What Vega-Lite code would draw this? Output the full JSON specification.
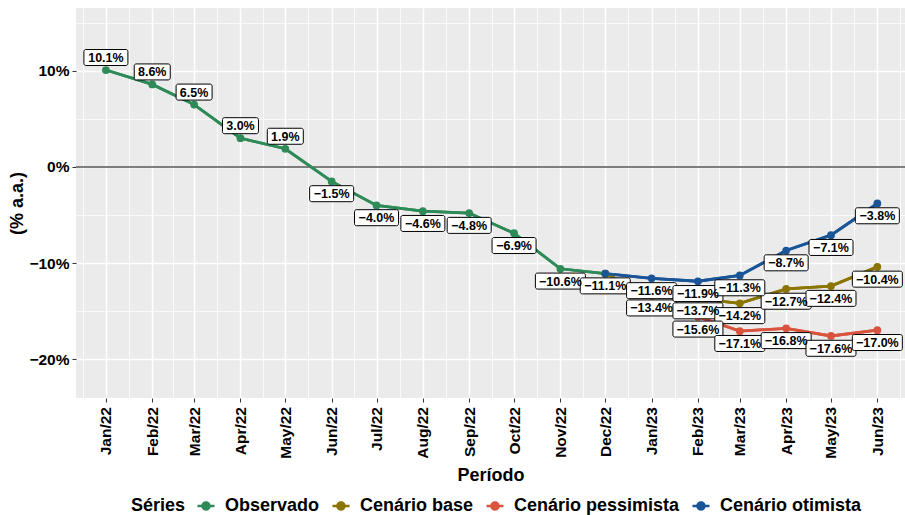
{
  "$schema": "https://vega.github.io/schema/vega-lite/v6.json",
  "width": 829,
  "height": 390,
  "autosize": {"type": "none"},
  "padding": {"left": 76, "top": 8, "right": 0, "bottom": 117},
  "background": "white",
  "config": {
    "view": {"fill": "#EBEBEB", "stroke": null},
    "font": "Liberation Sans",
    "axis": {"gridColor": "white", "domain": false, "labelFont": "Liberation Sans", "titleFont": "Liberation Sans"},
    "legend": {"labelFont": "Liberation Sans", "titleFont": "Liberation Sans"}
  },
  "data": {
    "values": [
      {"periodo": "2022-01-01", "serie": "Observado", "valor": 0.101},
      {"periodo": "2022-02-01", "serie": "Observado", "valor": 0.086},
      {"periodo": "2022-03-01", "serie": "Observado", "valor": 0.065},
      {"periodo": "2022-04-01", "serie": "Observado", "valor": 0.030},
      {"periodo": "2022-05-01", "serie": "Observado", "valor": 0.019},
      {"periodo": "2022-06-01", "serie": "Observado", "valor": -0.015},
      {"periodo": "2022-07-01", "serie": "Observado", "valor": -0.040},
      {"periodo": "2022-08-01", "serie": "Observado", "valor": -0.046},
      {"periodo": "2022-09-01", "serie": "Observado", "valor": -0.048},
      {"periodo": "2022-10-01", "serie": "Observado", "valor": -0.069},
      {"periodo": "2022-11-01", "serie": "Observado", "valor": -0.106},
      {"periodo": "2022-12-01", "serie": "Observado", "valor": -0.111},
      {"periodo": "2022-12-01", "serie": "Cenário base", "valor": -0.111},
      {"periodo": "2023-01-01", "serie": "Cenário base", "valor": -0.134},
      {"periodo": "2023-02-01", "serie": "Cenário base", "valor": -0.137},
      {"periodo": "2023-03-01", "serie": "Cenário base", "valor": -0.142},
      {"periodo": "2023-04-01", "serie": "Cenário base", "valor": -0.127},
      {"periodo": "2023-05-01", "serie": "Cenário base", "valor": -0.124},
      {"periodo": "2023-06-01", "serie": "Cenário base", "valor": -0.104},
      {"periodo": "2023-02-01", "serie": "Cenário pessimista", "valor": -0.156},
      {"periodo": "2023-03-01", "serie": "Cenário pessimista", "valor": -0.171},
      {"periodo": "2023-04-01", "serie": "Cenário pessimista", "valor": -0.168},
      {"periodo": "2023-05-01", "serie": "Cenário pessimista", "valor": -0.176},
      {"periodo": "2023-06-01", "serie": "Cenário pessimista", "valor": -0.170},
      {"periodo": "2022-12-01", "serie": "Cenário otimista", "valor": -0.111},
      {"periodo": "2023-01-01", "serie": "Cenário otimista", "valor": -0.116},
      {"periodo": "2023-02-01", "serie": "Cenário otimista", "valor": -0.119},
      {"periodo": "2023-03-01", "serie": "Cenário otimista", "valor": -0.113},
      {"periodo": "2023-04-01", "serie": "Cenário otimista", "valor": -0.087},
      {"periodo": "2023-05-01", "serie": "Cenário otimista", "valor": -0.071},
      {"periodo": "2023-06-01", "serie": "Cenário otimista", "valor": -0.038}
    ]
  },
  "resolve": {"axis": {"x": "independent", "y": "independent"}},
  "layer": [
    {
      "mark": {"type": "line", "strokeWidth": 2.8},
      "encoding": {
        "x": {
          "field": "periodo", "type": "temporal",
          "scale": {"type": "utc", "domain": [{"year": 2021, "month": 12, "date": 12, "utc": true}, {"year": 2023, "month": 6, "date": 19, "hours": 12, "utc": true}]},
          "axis": {
            "orient": "bottom", "grid": true, "gridWidth": 0.75, "gridColor": "white",
            "labels": false, "ticks": false, "domain": false, "title": null,
            "values": [
              {"year": 2021, "month": 12, "date": 16, "hours": 12, "utc": true},
              {"year": 2022, "month": 1, "date": 16, "hours": 12, "utc": true},
              {"year": 2022, "month": 2, "date": 15, "utc": true},
              {"year": 2022, "month": 3, "date": 16, "hours": 12, "utc": true},
              {"year": 2022, "month": 4, "date": 16, "utc": true},
              {"year": 2022, "month": 5, "date": 16, "hours": 12, "utc": true},
              {"year": 2022, "month": 6, "date": 16, "utc": true},
              {"year": 2022, "month": 7, "date": 16, "hours": 12, "utc": true},
              {"year": 2022, "month": 8, "date": 16, "hours": 12, "utc": true},
              {"year": 2022, "month": 9, "date": 16, "utc": true},
              {"year": 2022, "month": 10, "date": 16, "hours": 12, "utc": true},
              {"year": 2022, "month": 11, "date": 16, "utc": true},
              {"year": 2022, "month": 12, "date": 16, "hours": 12, "utc": true},
              {"year": 2023, "month": 1, "date": 16, "hours": 12, "utc": true},
              {"year": 2023, "month": 2, "date": 15, "utc": true},
              {"year": 2023, "month": 3, "date": 16, "hours": 12, "utc": true},
              {"year": 2023, "month": 4, "date": 16, "utc": true},
              {"year": 2023, "month": 5, "date": 16, "hours": 12, "utc": true},
              {"year": 2023, "month": 6, "date": 16, "utc": true}
            ]
          }
        },
        "y": {
          "field": "valor", "type": "quantitative",
          "scale": {"domain": [-0.2406, 0.1656], "nice": false, "zero": false},
          "axis": {"orient": "left", "values": [-0.15, -0.05, 0.05, 0.15], "grid": true, "gridWidth": 0.75, "gridColor": "white", "labels": false, "ticks": false, "domain": false, "title": null}
        },
        "color": {
          "field": "serie", "type": "nominal",
          "scale": {"domain": ["Observado", "Cenário base", "Cenário pessimista", "Cenário otimista"], "range": ["#2E8B57", "#8B7500", "#D9543C", "#1A5597"]},
          "legend": {
            "orient": "none", "legendX": 55, "legendY": 489, "direction": "horizontal", "padding": 0,
            "title": "Séries", "titleOrient": "left", "titleFontSize": 18, "titleFontWeight": "bold", "titleColor": "black", "titlePadding": 11, "titleBaseline": "middle",
            "labelFontSize": 18, "labelFontWeight": "bold", "labelColor": "black", "labelOffset": 10, "columnPadding": 12, "labelLimit": 400,
            "symbolType": "M-1,-0.16H1V0.16H-1Z M0.56,0A0.56,0.56 0 1 1 -0.56,0A0.56,0.56 0 1 1 0.56,0Z",
            "symbolSize": 289, "symbolStrokeWidth": 0, "symbolOpacity": 1,
            "encode": {"symbols": {"update": {"fill": {"scale": "color", "field": "value"}, "fillOpacity": {"value": 1}, "strokeWidth": {"value": 0}}}}
          }
        }
      }
    },
    {
      "mark": {"type": "rule", "color": "#7F7F7F", "strokeWidth": 1.1},
      "encoding": {"y": {"datum": 0, "type": "quantitative", "axis": null}}
    },
    {
      "mark": {"type": "line", "strokeWidth": 2.8},
      "encoding": {
        "x": {"field": "periodo", "type": "temporal", "axis": null},
        "y": {"field": "valor", "type": "quantitative", "axis": null},
        "color": {"field": "serie", "type": "nominal"}
      }
    },
    {
      "mark": {"type": "circle", "size": 60, "opacity": 1},
      "encoding": {
        "x": {
          "field": "periodo", "type": "temporal",
          "axis": {
            "orient": "bottom", "tickCount": {"interval": "month", "step": 1},
            "labelExpr": "utcFormat(datum.value, '%b/%y')",
            "labelAngle": -90, "labelAlign": "right", "labelBaseline": "middle",
            "labelFontSize": 15.5, "labelFontWeight": "bold", "labelColor": "black",
            "labelOverlap": false, "labelFlush": false, "labelPadding": 4.5,
            "ticks": true, "tickColor": "#333333", "tickSize": 4, "tickWidth": 1,
            "grid": true, "gridWidth": 1.5, "gridColor": "white", "domain": false,
            "title": "Período", "titleFontSize": 18, "titleFontWeight": "bold", "titleColor": "black",
            "titleY": 82, "titleBaseline": "alphabetic"
          }
        },
        "y": {
          "field": "valor", "type": "quantitative",
          "axis": {
            "orient": "left", "values": [-0.2, -0.1, 0, 0.1], "format": ".0%",
            "labelFontSize": 15.5, "labelFontWeight": "bold", "labelColor": "black", "labelPadding": 3,
            "ticks": true, "tickColor": "#333333", "tickSize": 4, "tickWidth": 1,
            "grid": true, "gridWidth": 1.5, "gridColor": "white", "domain": false,
            "title": "(% a.a.)", "titleFontSize": 18, "titleFontWeight": "bold", "titleColor": "black",
            "titleAngle": -90, "titleX": -58.5, "titleY": 195, "titleBaseline": "middle", "titleAlign": "center"
          }
        },
        "color": {"field": "serie", "type": "nominal"}
      }
    },
    {
      "transform": [{"filter": "datum.valor >= 0.1"}],
      "mark": {"type": "point", "shape": "M-20,-8H20A2,2 0 0 1 22,-6V6A2,2 0 0 1 20,8H-20A2,2 0 0 1 -22,6V-6A2,2 0 0 1 -20,-8Z", "size": 4, "filled": true, "fill": "white", "stroke": "black", "strokeWidth": 1, "opacity": 1, "yOffset": -12.5},
      "encoding": {"x": {"field": "periodo", "type": "temporal", "axis": null}, "y": {"field": "valor", "type": "quantitative", "axis": null}}
    },
    {
      "transform": [{"filter": "datum.valor > 0 && datum.valor < 0.1"}],
      "mark": {"type": "point", "shape": "M-16,-8H16A2,2 0 0 1 18,-6V6A2,2 0 0 1 16,8H-16A2,2 0 0 1 -18,6V-6A2,2 0 0 1 -16,-8Z", "size": 4, "filled": true, "fill": "white", "stroke": "black", "strokeWidth": 1, "opacity": 1, "yOffset": -12.5},
      "encoding": {"x": {"field": "periodo", "type": "temporal", "axis": null}, "y": {"field": "valor", "type": "quantitative", "axis": null}}
    },
    {
      "transform": [{"filter": "datum.valor < 0 && datum.valor > -0.1"}],
      "mark": {"type": "point", "shape": "M-20,-8H20A2,2 0 0 1 22,-6V6A2,2 0 0 1 20,8H-20A2,2 0 0 1 -22,6V-6A2,2 0 0 1 -20,-8Z", "size": 4, "filled": true, "fill": "white", "stroke": "black", "strokeWidth": 1, "opacity": 1, "yOffset": 12.3},
      "encoding": {"x": {"field": "periodo", "type": "temporal", "axis": null}, "y": {"field": "valor", "type": "quantitative", "axis": null}}
    },
    {
      "transform": [{"filter": "datum.valor <= -0.1 && (datum.serie == 'Observado' || datum.valor != -0.111)"}],
      "mark": {"type": "point", "shape": "M-23,-8H23A2,2 0 0 1 25,-6V6A2,2 0 0 1 23,8H-23A2,2 0 0 1 -25,6V-6A2,2 0 0 1 -23,-8Z", "size": 4, "filled": true, "fill": "white", "stroke": "black", "strokeWidth": 1, "opacity": 1, "yOffset": 12.3},
      "encoding": {"x": {"field": "periodo", "type": "temporal", "axis": null}, "y": {"field": "valor", "type": "quantitative", "axis": null}}
    },
    {
      "transform": [{"filter": "datum.valor > 0"}],
      "mark": {"type": "text", "font": "Liberation Sans", "fontSize": 12.5, "fontWeight": "bold", "color": "black", "align": "center", "baseline": "middle", "dy": -12},
      "encoding": {"x": {"field": "periodo", "type": "temporal", "axis": null}, "y": {"field": "valor", "type": "quantitative", "axis": null}, "text": {"field": "valor", "type": "quantitative", "format": ".1%"}}
    },
    {
      "transform": [{"filter": "datum.valor < 0 && (datum.serie == 'Observado' || datum.valor != -0.111)"}],
      "mark": {"type": "text", "font": "Liberation Sans", "fontSize": 12.5, "fontWeight": "bold", "color": "black", "align": "center", "baseline": "middle", "dy": 12.8},
      "encoding": {"x": {"field": "periodo", "type": "temporal", "axis": null}, "y": {"field": "valor", "type": "quantitative", "axis": null}, "text": {"field": "valor", "type": "quantitative", "format": ".1%"}}
    }
  ]
}
